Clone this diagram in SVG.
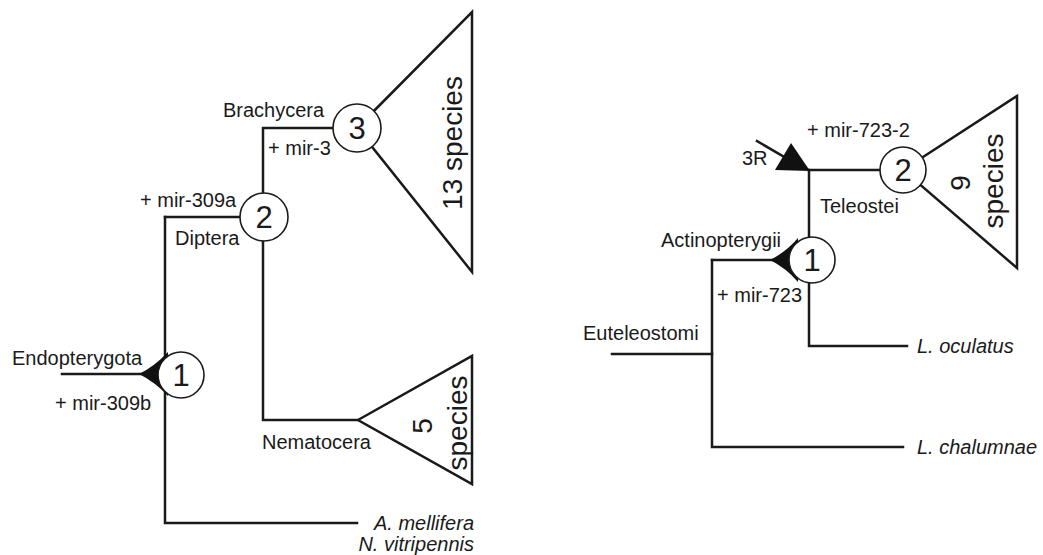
<svg xmlns="http://www.w3.org/2000/svg" width="1043" height="555" viewBox="0 0 1043 555">
<style>
  .ln{fill:none;stroke:#1a1a1a;stroke-width:2.5;stroke-linecap:square}
  .tri{fill:#fff;stroke:#1a1a1a;stroke-width:2.5;stroke-linejoin:miter}
  .node{fill:#fff;stroke:#1a1a1a;stroke-width:1.6}
  .head{fill:#111;stroke:none}
  .t{font-family:"Liberation Sans",Arial,sans-serif;font-size:20px;fill:#1a1a1a}
  .it{font-style:italic}
  .num{font-family:"Liberation Sans",Arial,sans-serif;font-size:31px;fill:#1a1a1a;text-anchor:middle}
  .sp{font-family:"Liberation Sans",Arial,sans-serif;font-size:28px;fill:#1a1a1a;text-anchor:middle}
</style>
<rect width="1043" height="555" fill="#fff"/>
<g id="connectors">
  <!-- left tree -->
  <path class="ln" d="M62,374 H145"/>
  <path class="ln" d="M165,217 V523 H357"/>
  <path class="ln" d="M165,217 H245"/>
  <path class="ln" d="M263,217 V128 H340"/>
  <path class="ln" d="M263,217 V420 H358"/>
  <!-- right tree -->
  <path class="ln" d="M612,354 H712"/>
  <path class="ln" d="M712,260 V447 H903"/>
  <path class="ln" d="M712,260 H775"/>
  <path class="ln" d="M809,170 V346 H907"/>
  <path class="ln" d="M809,170 H885"/>
  <path class="ln" d="M757,141 L786,158"/>
  <polygon class="head" points="775,170 791,143 810,171"/>
</g>
<g id="clade13">
  <polygon class="tri" points="357,128 472,12 472,272"/>
  <text class="sp" transform="translate(462,143) rotate(-90)">13 species</text>
</g>
<g id="clade5">
  <polygon class="tri" points="358,420 472,356 472,484"/>
  <text class="sp" transform="translate(432,426) rotate(-90)">5</text>
  <text class="sp" transform="translate(467,423) rotate(-90)">species</text>
</g>
<g id="clade9">
  <polygon class="tri" points="903,170 1017,96 1017,268"/>
  <text class="sp" transform="translate(970,183) rotate(-90)">9</text>
  <text class="sp" transform="translate(1003,181) rotate(-90)">species</text>
</g>
<g id="node-L1">
  <path class="head" d="M139,374 Q155,366 168,352 L168,396 Q155,382 139,374 Z"/>
  <circle class="node" cx="181" cy="375" r="23"/>
  <text class="num" x="181" y="386">1</text>
</g>
<g id="node-L2">
  <circle class="node" cx="264" cy="217" r="24"/>
  <text class="num" x="264" y="228">2</text>
</g>
<g id="node-L3">
  <circle class="node" cx="357" cy="128" r="24"/>
  <text class="num" x="357" y="139">3</text>
</g>
<g id="node-R1">
  <path class="head" d="M770,260 Q786,252 798,238 L798,282 Q786,268 770,260 Z"/>
  <circle class="node" cx="812" cy="260" r="23"/>
  <text class="num" x="812" y="271">1</text>
</g>
<g id="node-R2">
  <circle class="node" cx="903" cy="170" r="23"/>
  <text class="num" x="903" y="181">2</text>
</g>
<g id="labels">
  <text class="t" x="12" y="365">Endopterygota</text>
  <text class="t" x="55" y="410">+ mir-309b</text>
  <text class="t" x="140" y="207">+ mir-309a</text>
  <text class="t" x="175" y="245">Diptera</text>
  <text class="t" x="223" y="117">Brachycera</text>
  <text class="t" x="268" y="155">+ mir-3</text>
  <text class="t" x="262" y="449">Nematocera</text>
  <text class="t it" x="474" y="530" text-anchor="end">A. mellifera</text>
  <text class="t it" x="474" y="551" text-anchor="end">N. vitripennis</text>
  <text class="t" x="583" y="340">Euteleostomi</text>
  <text class="t" x="661" y="247">Actinopterygii</text>
  <text class="t" x="717" y="302">+ mir-723</text>
  <text class="t" x="742" y="165">3R</text>
  <text class="t" x="807" y="137">+ mir-723-2</text>
  <text class="t" x="820" y="213">Teleostei</text>
  <text class="t it" x="917" y="353">L. oculatus</text>
  <text class="t it" x="917" y="454">L. chalumnae</text>
</g>
</svg>
